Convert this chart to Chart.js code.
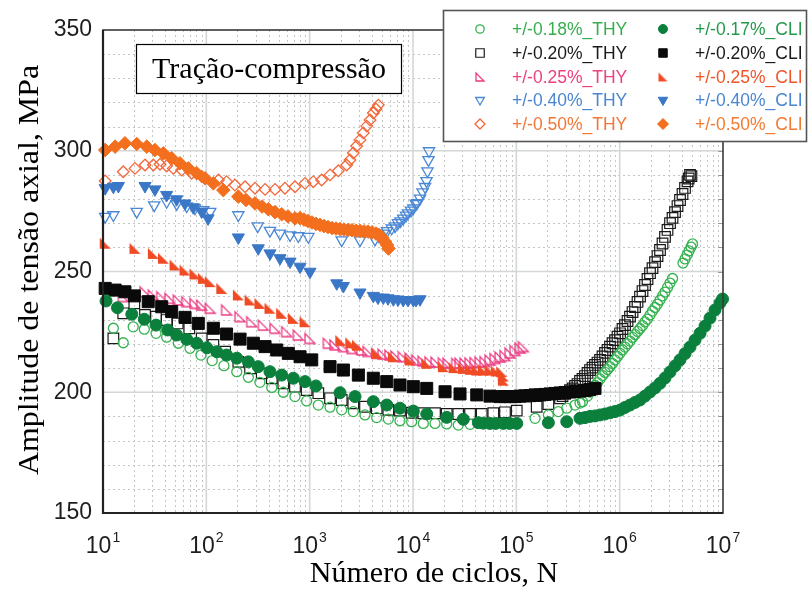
<!DOCTYPE html>
<html>
<head>
<meta charset="utf-8">
<script src="https://cdn.jsdelivr.net/npm/chart.js@4.4.1/dist/chart.umd.min.js"></script>
<style>
  body { margin: 0; background: #fff; }
</style>
</head>
<body>
<canvas id="chart" width="809" height="589"></canvas>
<script>
// Series: cycles N and stress amplitude (MPa)
const thy018N = [12.6, 15.7, 19.6, 25.1, 32.6, 41.3, 53.5, 69.5, 88.7, 114, 148, 197, 255, 330, 430, 556, 721, 935, 1213, 1574, 2042, 2644, 3432, 4454, 5770, 7482, 9705, 12590, 16330, 21180, 27420, 35650, 151700, 204200, 254700, 307600, 369700, 413300, 436900, 488500, 516500, 546000, 577300, 610400, 645300, 682300, 721400, 762700, 806400, 852600, 901600, 953300, 1007900, 1065600, 1126700, 1191200, 1259500, 1331700, 1408000, 1488400, 1573800, 1663600, 1759000, 1859800, 1966200, 2078900, 2198000, 2324000, 2457000, 2598000, 2747000, 2904000, 3071000, 3247000, 4102000, 4290000, 4485000, 4690000, 4902000, 5070000];
const thy018S = [226.5, 220.5, 227.1, 226.1, 224.4, 222.8, 220.3, 218.2, 215.4, 213.1, 211, 208.5, 206.2, 204.1, 202, 200, 198.2, 196.4, 194.7, 193.8, 192.7, 192, 190.6, 189.5, 188.9, 188.2, 187.8, 187.1, 187.1, 186.9, 186.4, 186.7, 189.2, 190.6, 192, 193.4, 194.7, 195.5, 196.1, 198.4, 200.1, 201.3, 202.8, 204, 205.5, 206.9, 208.2, 209.4, 210.6, 211.9, 213.4, 214.8, 216.1, 217.5, 218.7, 220, 221.2, 222.7, 223.9, 225.2, 226.4, 227.6, 229.1, 230.3, 232, 233.6, 235.1, 236.5, 238.2, 239.9, 241.5, 243.4, 245.2, 247.1, 253.5, 255.2, 256.8, 258.5, 260.1, 261.4];

const cli017N = [10.7, 13.8, 19.0, 25.1, 32.6, 42.3, 51.6, 64.6, 80.7, 101, 126, 157, 197, 255, 318, 413, 536, 695, 902, 1150, 1967, 2748, 4130, 5570, 7482, 10070, 13580, 21180, 30690, 42870, 48000, 55610, 63000, 74820, 86000, 100900, 204200, 307600, 413300, 462000, 516500, 577300, 645300, 721400, 806400, 901600, 1007900, 1126700, 1259500, 1408000, 1573800, 1759000, 1966200, 2198000, 2457000, 2747000, 3071000, 3433000, 3837000, 4290000, 4795000, 5361000, 5993000, 6699000, 7487000, 8370000, 9358000, 9894000];
const cli017S = [237.8, 235, 232.3, 230.2, 227.8, 225.8, 223.7, 221.9, 220.3, 218.4, 216.8, 215.4, 214.1, 212.6, 210.6, 208.5, 207.1, 205.8, 204.4, 202.6, 199.8, 198.2, 196.1, 194.7, 193.4, 192.2, 191, 189.6, 188.8, 187.4, 187.2, 187.1, 187.1, 187.1, 187.1, 187.1, 187.4, 187.8, 189.2, 189.5, 190, 190.2, 190.6, 191, 191.5, 192, 192.6, 193.7, 194.7, 195.8, 196.8, 198.4, 200.1, 201.8, 203.7, 205.9, 208.4, 210.9, 213.4, 216, 218.7, 221.6, 224.4, 227.4, 230.7, 234.1, 237, 238.6];

const thy020N = [12.6, 15.7, 20.1, 25.5, 32.6, 41.3, 52.8, 68.4, 90.2, 117, 152, 204, 265, 344, 430, 556, 721, 935, 1213, 1574, 2042, 2644, 3432, 4454, 5770, 7482, 9705, 12590, 16330, 21180, 27420, 35650, 46240, 59840, 77620, 100900, 157400, 204200, 264800, 279900, 295900, 312800, 330700, 349600, 369700, 390900, 413300, 436900, 462000, 488500, 516500, 546000, 577300, 610400, 645300, 682300, 721400, 762700, 806400, 852600, 901600, 953300, 1007900, 1065600, 1126700, 1191200, 1259500, 1331700, 1408000, 1488400, 1573800, 1663600, 1759000, 1859800, 1966200, 2078900, 2198000, 2324000, 2457000, 2598000, 2747000, 2904000, 3071000, 3247000, 3433000, 3629000, 3837000, 4057000, 4290000, 4536000, 4795000, 4650000, 4950000];
const thy020S = [222.3, 232.7, 236.8, 232, 231.3, 229.9, 228.5, 226.5, 222.3, 219.6, 216.8, 212.6, 209.9, 207.8, 205.8, 203.7, 202.3, 200.9, 199.6, 197.5, 196.8, 195.4, 194, 193.4, 192.7, 192.4, 191.5, 191.3, 191.3, 191, 191, 191, 191, 191.3, 191.7, 192.4, 194, 195.1, 197.5, 198.4, 199.3, 200.1, 200.9, 201.6, 202.6, 203.4, 204.7, 205.5, 206.7, 208, 209.2, 210.2, 211.3, 212.3, 213.4, 214.8, 216.3, 217.5, 218.9, 220.3, 221.6, 223, 224.4, 226.2, 227.8, 229.5, 231.3, 233.2, 235.3, 237.4, 239.6, 241.9, 244.4, 246.9, 249.3, 251.4, 253.9, 256.4, 258.9, 261.6, 264.3, 267.2, 270, 272.2, 274.6, 277.1, 279.6, 282.1, 284.6, 287.3, 290, 288.5, 289.5];

const cli020N = [10.5, 13.1, 16.3, 20.1, 27.4, 37.0, 46.2, 62.2, 83.6, 117, 157, 212, 285, 370, 480, 621, 807, 1047, 1574, 2120, 2960, 4130, 5570, 7482, 10070, 13580, 20420, 28510, 41400, 55610, 69500, 77700, 86850, 97100, 108540, 121340, 135650, 151640, 169500, 189500, 211800, 236800, 264800, 295900, 330700, 369700, 413300, 462000, 516500, 577300];
const cli020S = [243, 242.3, 241.6, 239.9, 237.5, 235.4, 233.4, 231, 228.5, 226.5, 224.1, 222, 220.3, 218.9, 217.5, 216.1, 214.7, 213.4, 210.6, 209.2, 207.1, 205.8, 204.4, 203, 202.3, 201.6, 200.2, 199.3, 198.9, 198.4, 198.2, 198.2, 198.2, 198.2, 198.4, 198.5, 198.6, 198.9, 198.9, 199.1, 199.3, 199.5, 199.7, 199.9, 200.1, 200.3, 200.5, 200.7, 201.1, 201.6];

const thy025N = [15.7, 25.5, 30.7, 37.0, 44.5, 53.5, 64.6, 77.6, 90.2, 109, 157, 212, 275, 356, 462, 600, 776, 1007, 1514, 1759, 2120, 2570, 3192, 3670, 4454, 5126, 5980, 6847, 8050, 9354, 10860, 12500, 14620, 16700, 19650, 21820, 26490, 28510, 31870, 35650, 39820, 44510, 49770, 55640, 62200, 69500, 77700, 86850, 97100, 108540, 116900];
const thy025S = [239.6, 241.6, 240.3, 239.6, 238.9, 238.2, 237.5, 236.8, 236.1, 234.8, 234.1, 231.3, 229.2, 227.8, 226.5, 225.1, 223.7, 222.3, 220.3, 219.6, 218.9, 218.1, 217.5, 216.9, 216.1, 215.8, 215.4, 215, 214.7, 214.2, 213.4, 212.9, 212.6, 212.5, 212.2, 212.1, 212, 212.1, 212.1, 212.2, 212.3, 212.5, 212.7, 213.4, 214, 214.6, 215.2, 216.3, 217.3, 218.3, 218.9];

const cli025N = [10.5, 20.4, 30.7, 38.4, 49.8, 62.2, 77.6, 93.5, 109, 141, 204, 265, 330, 413, 536, 695, 902, 2000, 2500, 2900, 4454, 6457, 9354, 13580, 19650, 25000, 30690, 36000, 41400, 48000, 55610, 64000, 72100, 74820, 74820];
const cli025S = [261.7, 259.6, 257.5, 255.5, 252.7, 250.6, 249, 247.2, 245.8, 243, 240.3, 238.2, 236.8, 234.8, 232.7, 230.6, 229.2, 221.5, 220.5, 219.5, 216.1, 214.7, 213.4, 212, 210.6, 210.2, 209.9, 209.5, 209.2, 209.2, 209.2, 208.8, 208.5, 206.7, 205];

const thy040N = [10.5, 12.6, 21.2, 31.3, 41.3, 51.6, 64.6, 77.6, 93.5, 109, 204, 314, 413, 516, 646, 776, 971, 2042, 3069, 4285, 4688, 5164, 5604, 6223, 6697, 7160, 7568, 8050, 8557, 8950, 9566, 10070, 10690, 10940, 11700, 12360, 13070, 13510, 13810, 14130, 14290];
const thy040S = [272.7, 273.4, 274.8, 277.5, 278.9, 278, 277.1, 276.2, 275.5, 274.8, 273.4, 268.8, 266.9, 265.8, 265.1, 264.7, 264.4, 263, 263, 263.3, 264.5, 265.8, 266.8, 267.9, 268.8, 270.1, 270.9, 272, 273.2, 274.2, 275.3, 276.2, 278, 278.4, 280.3, 282.9, 285.1, 287.5, 291.6, 296.2, 299.9];

const cli040N = [10.5, 12.6, 14.1, 25.5, 31.8, 41.3, 51.6, 62.2, 74.8, 90.2, 104, 204, 318, 413, 516, 646, 807, 1007, 1828, 2120, 3069, 4130, 4585, 5164, 5730, 6457, 7161, 8050, 8950, 10070, 10690, 11700];
const cli040S = [284.5, 285.1, 285.4, 285.4, 284, 281.7, 279.9, 278.2, 276.6, 274.8, 272, 264.1, 259.6, 257.5, 255.5, 254.1, 252, 249.9, 245.1, 244, 241.3, 239.9, 239.2, 239.2, 238.9, 238.5, 238.4, 238.2, 238.2, 238.2, 238.2, 238.5];

const thy050N = [10.5, 15.7, 20.4, 25.5, 30.7, 35.6, 41.3, 47.9, 57.8, 72.1, 90.2, 131, 157, 189, 237, 296, 370, 462, 577, 721, 902, 1084, 1306, 1574, 1893, 2280, 2455, 2644, 2851, 3069, 3304, 3565, 3837, 4130, 4385, 4617];
const thy050S = [287.5, 291.3, 292.7, 294.1, 294.1, 294.4, 293.7, 292.7, 292, 290.7, 289.3, 287.9, 287.2, 285.8, 285.1, 284.5, 284, 284, 284.5, 285.1, 286.5, 287.2, 287.9, 290, 291.7, 294.1, 296.2, 299.1, 302, 304.5, 307.4, 310.2, 312.7, 315.6, 317.3, 318.9];

const cli050N = [10.5, 13.1, 16.3, 21.2, 26.5, 31.8, 38.4, 46.2, 55.6, 67.0, 80.7, 97.0, 117, 146, 204, 242, 296, 346, 398, 462, 536, 617, 721, 806, 881, 963, 1054, 1152, 1259, 1377, 1505, 1645, 1799, 1966, 2150, 2350, 2570, 2808, 3071, 3357, 3670, 4012, 4385, 4688, 5013, 5360, 5604, 5794];
const cli050S = [300.3, 301.7, 303.1, 302.8, 301.7, 300.3, 298.9, 296.9, 294.8, 292.7, 290.7, 288.6, 286.5, 283.7, 281, 279.6, 278.2, 276.9, 275.8, 274.6, 273.7, 272.8, 272, 272.1, 271.5, 270.9, 270.3, 269.7, 269.3, 268.8, 268.4, 268, 267.8, 267.6, 267.4, 267.2, 267.1, 266.9, 266.8, 266.6, 266.5, 266.2, 265.7, 265.1, 264.1, 262.4, 261, 259.5];

// Axis ticks
const yTickValues = [150, 200, 250, 300, 350];
const xTickValues = [10, 100, 1000, 10000, 100000, 1000000, 10000000];
const xTickExponents = ['1', '2', '3', '4', '5', '6', '7'];

const SANS = '"Liberation Sans", Arial, sans-serif';
const SERIF = '"Liberation Serif", "Times New Roman", serif';

function pts(xs, ys) {
  return xs.map((v, i) => ({ x: v, y: ys[i] }));
}

// right-angle triangle marker (right angle at lower left)
function rightTri(color, filled, size) {
  const c = document.createElement('canvas');
  c.width = size + 4;
  c.height = size + 4;
  const g = c.getContext('2d');
  g.beginPath();
  g.moveTo(2, 2);
  g.lineTo(2, size + 2);
  g.lineTo(size + 2, size + 2);
  g.closePath();
  if (filled) {
    g.fillStyle = color;
    g.fill();
  } else {
    g.strokeStyle = color;
    g.lineWidth = 1.3;
    g.stroke();
  }
  return c;
}

const PINK = '#ec3b82';
const RED = '#f04b24';

const datasets = [
  { label: '+/-0.18%_THY', data: pts(thy018N, thy018S), pointStyle: 'circle', radius: 5,
    borderColor: '#34b24f', backgroundColor: 'rgba(0,0,0,0)', borderWidth: 1.3, order: 2,
    textColor: '#37ad4d', legendRadius: 4.2 },
  { label: '+/-0.17%_CLI', data: pts(cli017N, cli017S), pointStyle: 'circle', radius: 6,
    borderColor: '#0b7f3c', backgroundColor: '#0b7f3c', borderWidth: 1, order: 1,
    textColor: '#23994a', legendRadius: 4.5 },
  { label: '+/-0.20%_THY', data: pts(thy020N, thy020S), pointStyle: 'rect', radius: 7.5,
    borderColor: '#1a1a1a', backgroundColor: 'rgba(0,0,0,0)', borderWidth: 1.2, order: 2,
    textColor: '#1a1a1a', legendRadius: 6 },
  { label: '+/-0.20%_CLI', data: pts(cli020N, cli020S), pointStyle: 'rect', radius: 8.5,
    borderColor: '#0a0a0a', backgroundColor: '#0a0a0a', borderWidth: 1, order: 1,
    textColor: '#1a1a1a', legendRadius: 6 },
  { label: '+/-0.25%_THY', data: pts(thy025N, thy025S), pointStyle: rightTri(PINK, false, 10),
    borderColor: PINK, backgroundColor: 'rgba(0,0,0,0)', order: 2,
    textColor: '#ef3f7e', legendStyle: rightTri(PINK, false, 8) },
  { label: '+/-0.25%_CLI', data: pts(cli025N, cli025S), pointStyle: rightTri(RED, true, 11),
    borderColor: RED, backgroundColor: RED, order: 1,
    textColor: '#f1552a', legendStyle: rightTri(RED, true, 9) },
  { label: '+/-0.40%_THY', data: pts(thy040N, thy040S), pointStyle: 'triangle', rotation: 180, radius: 6.5,
    borderColor: '#4a88d6', backgroundColor: 'rgba(0,0,0,0)', borderWidth: 1.3, order: 2,
    textColor: '#4a86d0', legendRadius: 5 },
  { label: '+/-0.40%_CLI', data: pts(cli040N, cli040S), pointStyle: 'triangle', rotation: 180, radius: 7,
    borderColor: '#3a77c6', backgroundColor: '#3a77c6', borderWidth: 1, order: 1,
    textColor: '#4a86d0', legendRadius: 5.5 },
  { label: '+/-0.50%_THY', data: pts(thy050N, thy050S), pointStyle: 'rectRot', radius: 5.8,
    borderColor: '#f2683a', backgroundColor: 'rgba(0,0,0,0)', borderWidth: 1.3, order: 2,
    textColor: '#f47634', legendRadius: 5 },
  { label: '+/-0.50%_CLI', data: pts(cli050N, cli050S), pointStyle: 'rectRot', radius: 6.8,
    borderColor: '#f36f1e', backgroundColor: '#f36f1e', borderWidth: 1, order: 1,
    textColor: '#f47a30', legendRadius: 5.5 }
];
datasets.forEach(d => { d.clip = false; d.showLine = false; });

// dotted minor + solid major grid on the log / linear scales
const gridPlugin = {
  id: 'gridLines',
  beforeDatasetsDraw(chart) {
    const { ctx, chartArea: a, scales: { x, y } } = chart;
    ctx.save();
    ctx.lineWidth = 1;
    ctx.strokeStyle = '#c4c6c6';
    ctx.setLineDash([2, 3]);
    ctx.beginPath();
    for (let d = 0; d < xTickValues.length - 1; d++) {
      for (let m = 2; m <= 9; m++) {
        const px = Math.round(x.getPixelForValue(xTickValues[d] * m)) + 0.5;
        ctx.moveTo(px, a.top);
        ctx.lineTo(px, a.bottom);
      }
    }
    for (let v = y.min + 10; v < y.max; v += 10) {
      if (v % 50 === 0) continue;
      const py = Math.round(y.getPixelForValue(v)) + 0.5;
      ctx.moveTo(a.left, py);
      ctx.lineTo(a.right, py);
    }
    ctx.stroke();

    ctx.setLineDash([]);
    ctx.strokeStyle = '#d3d7d7';
    ctx.lineWidth = 1.6;
    ctx.beginPath();
    xTickValues.slice(1, -1).forEach(v => {
      const px = x.getPixelForValue(v);
      ctx.moveTo(px, a.top);
      ctx.lineTo(px, a.bottom);
    });
    yTickValues.slice(1, -1).forEach(v => {
      const py = y.getPixelForValue(v);
      ctx.moveTo(a.left, py);
      ctx.lineTo(a.right, py);
    });
    ctx.stroke();

    // small inward ticks along the right edge
    ctx.strokeStyle = '#9a9a9a';
    ctx.lineWidth = 1;
    ctx.beginPath();
    for (let v = y.min + 10; v < y.max; v += 10) {
      const py = Math.round(y.getPixelForValue(v)) + 0.5;
      ctx.moveTo(a.right - 5, py);
      ctx.lineTo(a.right, py);
    }
    ctx.stroke();
    ctx.restore();
  },
  afterDatasetsDraw(chart) {
    const { ctx, chartArea: a } = chart;
    ctx.save();
    ctx.strokeStyle = '#3a3a3a';
    ctx.lineWidth = 1.6;
    ctx.strokeRect(a.left, a.top, a.right - a.left, a.bottom - a.top);
    ctx.strokeStyle = '#222';
    ctx.lineWidth = 2.2;
    ctx.beginPath();
    ctx.moveTo(a.left, a.top);
    ctx.lineTo(a.left, a.bottom);
    ctx.lineTo(a.right, a.bottom);
    ctx.stroke();
    ctx.restore();
  }
};

// tick labels with superscripts, axis titles, caption box and legend
const textPlugin = {
  id: 'texts',
  afterDraw(chart) {
    const { ctx, scales: { x } } = chart;
    ctx.save();
    ctx.fillStyle = '#1e1e1e';
    ctx.textBaseline = 'alphabetic';
    ctx.textAlign = 'left';
    xTickValues.forEach((v, i) => {
      const px = x.getPixelForValue(v);
      ctx.font = '23px ' + SANS;
      const wb = ctx.measureText('10').width;
      ctx.font = '14px ' + SANS;
      const ws = ctx.measureText(xTickExponents[i]).width;
      const start = px - (wb + ws + 1) / 2;
      ctx.font = '23px ' + SANS;
      ctx.fillText('10', start, 553);
      ctx.font = '14px ' + SANS;
      ctx.fillText(xTickExponents[i], start + wb + 1, 542);
    });

    ctx.fillStyle = '#000';
    ctx.font = '30px ' + SERIF;
    ctx.textAlign = 'center';
    ctx.fillText('Número de ciclos, N', 434, 582);
    ctx.save();
    ctx.translate(38, 270);
    ctx.rotate(-Math.PI / 2);
    ctx.scale(1.1, 1);
    ctx.font = '29px ' + SERIF;
    ctx.fillText('Amplitude de tensão axial, MPa', 0, 0);
    ctx.restore();

    // caption box
    ctx.fillStyle = '#fff';
    ctx.fillRect(136, 44, 266, 49);
    ctx.strokeStyle = '#000';
    ctx.lineWidth = 1.2;
    ctx.strokeRect(136.5, 44.5, 265, 49);
    ctx.fillStyle = '#000';
    ctx.font = '30px ' + SERIF;
    ctx.textBaseline = 'middle';
    ctx.fillText('Tração-compressão', 269, 70);

    // legend
    ctx.fillStyle = '#fff';
    ctx.fillRect(443, 10, 364, 132);
    ctx.strokeStyle = '#555';
    ctx.lineWidth = 1.6;
    ctx.strokeRect(443.5, 10.5, 363, 131);
    const rowY = [29, 53, 77, 100, 124];
    const markX = [480, 663];
    const textX = [512, 695];
    ctx.font = '17.5px ' + SANS;
    ctx.textAlign = 'left';
    ctx.textBaseline = 'middle';
    chart.data.datasets.forEach((d, i) => {
      const col = i % 2;
      const row = Math.floor(i / 2);
      const mx = markX[col], my = rowY[row];
      ctx.fillStyle = d.backgroundColor;
      ctx.strokeStyle = d.borderColor;
      ctx.lineWidth = d.borderWidth || 1.2;
      Chart.helpers.drawPoint(ctx, {
        pointStyle: d.legendStyle || d.pointStyle,
        radius: d.legendRadius || 5,
        rotation: d.rotation || 0,
        borderWidth: d.borderWidth || 1.2
      }, mx, my);
      ctx.fillStyle = d.textColor;
      ctx.fillText(d.label, textX[col], my + 1);
    });
    ctx.restore();
  }
};

new Chart(document.getElementById('chart'), {
  type: 'scatter',
  data: { datasets },
  options: {
    responsive: false,
    animation: false,
    layout: { padding: { top: 30, right: 86, left: 0, bottom: 0 } },
    plugins: { legend: { display: false }, tooltip: { enabled: false } },
    scales: {
      x: {
        type: 'logarithmic',
        min: 10,
        max: 10000000,
        ticks: { display: false },
        grid: { display: false, drawTicks: false },
        border: { display: false },
        afterFit(scale) { scale.height = 76; }
      },
      y: {
        min: 150,
        max: 350,
        ticks: {
          stepSize: 50,
          padding: 11,
          color: '#1e1e1e',
          font: { family: SANS, size: 23 }
        },
        grid: { display: false, drawTicks: false },
        border: { display: false },
        afterFit(scale) { scale.width = 103; }
      }
    }
  },
  plugins: [gridPlugin, textPlugin]
});
</script>
</body>
</html>
